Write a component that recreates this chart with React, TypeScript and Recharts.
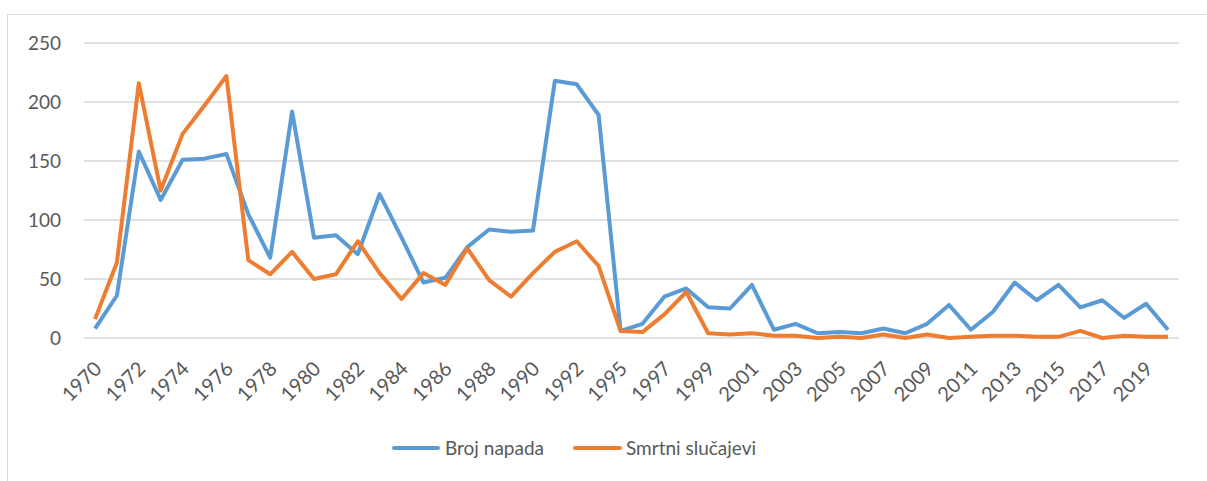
import { LineChart, Line, XAxis, YAxis, CartesianGrid, Legend } from 'recharts';

// GTD data, 1993 missing from the source
const years = [
    '1970', '1971', '1972', '1973', '1974', '1975', '1976', '1977', '1978', '1979',
    '1980', '1981', '1982', '1983', '1984', '1985', '1986', '1987', '1988', '1989',
    '1990', '1991', '1992', '1994', '1995', '1996', '1997', '1998', '1999', '2000',
    '2001', '2002', '2003', '2004', '2005', '2006', '2007', '2008', '2009', '2010',
    '2011', '2012', '2013', '2014', '2015', '2016', '2017', '2018', '2019', '2020',
];

const brojNapada = [
    8, 36, 158, 117, 151, 152, 156, 105, 68, 192,
    85, 87, 71, 122, 85, 47, 51, 77, 92, 90,
    91, 218, 215, 189, 6, 12, 35, 42, 26, 25,
    45, 7, 12, 4, 5, 4, 8, 4, 12, 28,
    7, 22, 47, 32, 45, 26, 32, 17, 29, 7,
];

const smrtniSlucajevi = [
    16, 64, 216, 125, 173, 197, 222, 66, 54, 73,
    50, 54, 82, 55, 33, 55, 45, 76, 49, 35,
    55, 73, 82, 61, 6, 5, 20, 39, 4, 3,
    4, 2, 2, 0, 1, 0, 3, 0, 3, 0,
    1, 2, 2, 1, 1, 6, 0, 2, 1, 1,
];

const yTicks = [0, 50, 100, 150, 200, 250];

const data = years.map((year, i) => ({
    year,
    napadi: brojNapada[i],
    smrtni: smrtniSlucajevi[i],
}));

const FONT = 'Lato, "Noto Sans", sans-serif';
const TEXT = '#595959';
const BLUE = '#5B9BD5';
const ORANGE = '#ED7D31';
const GRID = '#D9D9D9';

const XTick = (props: any) => {
    const { x, y, payload } = props;
    return (
        <g transform={`translate(${x + 3},${y + 27})`}>
            <text
                textAnchor="end"
                dy="0.35em"
                transform="rotate(-45)"
                fill={TEXT}
                fontSize={20}
                fontFamily={FONT}
            >
                {payload.value}
            </text>
        </g>
    );
};

const LegendContent = () => (
    <div style={{ position: 'relative', height: 24, fontFamily: FONT, fontSize: 19, color: TEXT }}>
        <div style={{ position: 'absolute', left: 392, top: 10, width: 48, height: 4, borderRadius: 2, background: BLUE }} />
        <span style={{ position: 'absolute', left: 445, top: 0, lineHeight: '24px' }}>Broj napada</span>
        <div style={{ position: 'absolute', left: 573, top: 10, width: 49, height: 4, borderRadius: 2, background: ORANGE }} />
        <span style={{ position: 'absolute', left: 626, top: 0, lineHeight: '24px' }}>Smrtni slučajevi</span>
    </div>
);

export default function App() {
    return (
        <div style={{ position: 'absolute', left: 0, top: 0, width: 1207, height: 481, background: '#fff', overflow: 'hidden' }}>
            <div style={{ position: 'absolute', left: 7, top: 14, width: 1200, height: 1, background: GRID }} />
            <div style={{ position: 'absolute', left: 7, top: 14, width: 1, height: 467, background: GRID }} />
            <LineChart
                width={1207}
                height={481}
                data={data}
                margin={{ top: 43, right: 28, bottom: 0, left: 0 }}
            >
                <CartesianGrid vertical={false} stroke={GRID} strokeWidth={1.5} />
                <XAxis
                    dataKey="year"
                    interval={1}
                    padding={{ left: 11, right: 11 }}
                    axisLine={false}
                    tickLine={false}
                    tickSize={0}
                    tickMargin={0}
                    height={119}
                    tick={<XTick />}
                />
                <YAxis
                    domain={[0, 250]}
                    ticks={yTicks}
                    width={84}
                    axisLine={false}
                    tickLine={false}
                    tickSize={0}
                    tickMargin={23}
                    tick={{ fill: TEXT, fontSize: 19, fontFamily: FONT }}
                />
                <Legend
                    content={<LegendContent />}
                    wrapperStyle={{ position: 'absolute', top: 436, left: 0, width: 1207 }}
                />
                <Line
                    type="linear"
                    dataKey="napadi"
                    name="Broj napada"
                    stroke={BLUE}
                    strokeWidth={4}
                    dot={false}
                    strokeLinejoin="round"
                    isAnimationActive={false}
                />
                <Line
                    type="linear"
                    dataKey="smrtni"
                    name="Smrtni slučajevi"
                    stroke={ORANGE}
                    strokeWidth={4}
                    dot={false}
                    strokeLinejoin="round"
                    isAnimationActive={false}
                />
            </LineChart>
        </div>
    );
}
